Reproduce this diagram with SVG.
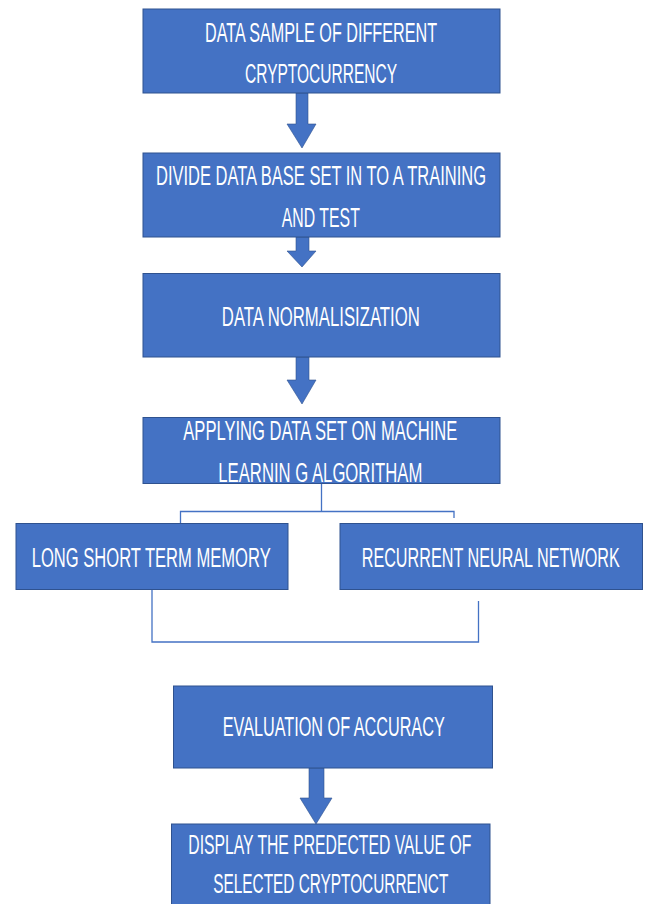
<svg xmlns="http://www.w3.org/2000/svg" width="645" height="904" viewBox="0 0 645 904">
<style>
.box{fill:#4472C4;stroke:#2F528F;stroke-width:1}
.t{font-family:"Liberation Sans",Arial,sans-serif;font-size:28px;fill:#ffffff;text-anchor:middle}
.arr{fill:#4472C4;stroke:#2F528F;stroke-width:0.6}
.ln{fill:none;stroke:#4472C4;stroke-width:1.3}
</style>
<rect width="645" height="904" fill="#ffffff"/>
<g id="connectors">
<path class="arr" d="M296,93 H308 V124 H316 L302,148 L287,124 H296 Z"/>
<path class="arr" d="M296,237 H309 V251 H316 L302,267 L287,251 H296 Z"/>
<path class="arr" d="M296,357 H309 V380 H316 L302,404 L287,380 H296 Z"/>
<path class="ln" d="M321.5,483 V511.5 M180.5,523 V511.5 H454 V518"/>
<path class="ln" d="M152,589 V642 H478.5 V601"/>
<path class="arr" d="M309,768 H324 V798 H332 L316,824 L300,798 H309 Z"/>
</g>
<g id="node1">
<rect class="box" x="143" y="9" width="357" height="84"/>
<text class="t" transform="translate(321,41.7) scale(0.6,1)" textLength="386.7" lengthAdjust="spacingAndGlyphs">DATA SAMPLE OF DIFFERENT</text>
<text class="t" transform="translate(321,83.3) scale(0.6,1)" textLength="253.3" lengthAdjust="spacingAndGlyphs">CRYPTOCURRENCY</text>
</g>
<g id="node2">
<rect class="box" x="143" y="153" width="357" height="84"/>
<text class="t" transform="translate(321,185) scale(0.6,1)" textLength="550" lengthAdjust="spacingAndGlyphs">DIVIDE DATA BASE SET IN TO A TRAINING</text>
<text class="t" transform="translate(320.8,226.7) scale(0.6,1)" textLength="130" lengthAdjust="spacingAndGlyphs">AND TEST</text>
</g>
<g id="node3">
<rect class="box" x="143" y="273.5" width="357" height="83.5"/>
<text class="t" transform="translate(320.8,325.7) scale(0.6,1)" textLength="330" lengthAdjust="spacingAndGlyphs">DATA NORMALISIZATION</text>
</g>
<g id="node4">
<rect class="box" x="143" y="417.5" width="357" height="66"/>
<text class="t" transform="translate(320.3,440) scale(0.6,1)" textLength="456.7" lengthAdjust="spacingAndGlyphs">APPLYING DATA SET ON MACHINE</text>
<text class="t" transform="translate(320.3,481.7) scale(0.6,1)" textLength="340" lengthAdjust="spacingAndGlyphs">LEARNIN G ALGORITHAM</text>
</g>
<g id="node5">
<rect class="box" x="16" y="523.5" width="272" height="66"/>
<text class="t" transform="translate(151.2,566.7) scale(0.6,1)" textLength="398.3" lengthAdjust="spacingAndGlyphs">LONG SHORT TERM MEMORY</text>
</g>
<g id="node6">
<rect class="box" x="340" y="523.5" width="302.5" height="66"/>
<text class="t" transform="translate(490.7,566.7) scale(0.6,1)" textLength="430" lengthAdjust="spacingAndGlyphs">RECURRENT NEURAL NETWORK</text>
</g>
<g id="node7">
<rect class="box" x="173.5" y="686" width="319" height="82"/>
<text class="t" transform="translate(333.7,736) scale(0.6,1)" textLength="370" lengthAdjust="spacingAndGlyphs">EVALUATION OF ACCURACY</text>
</g>
<g id="node8">
<rect class="box" x="171.5" y="824" width="318.5" height="90"/>
<text class="t" transform="translate(329.8,854) scale(0.6,1)" textLength="471.7" lengthAdjust="spacingAndGlyphs">DISPLAY THE PREDECTED VALUE OF</text>
<text class="t" transform="translate(330.8,893.3) scale(0.6,1)" textLength="391.7" lengthAdjust="spacingAndGlyphs">SELECTED CRYPTOCURRENCT</text>
</g>
</svg>
